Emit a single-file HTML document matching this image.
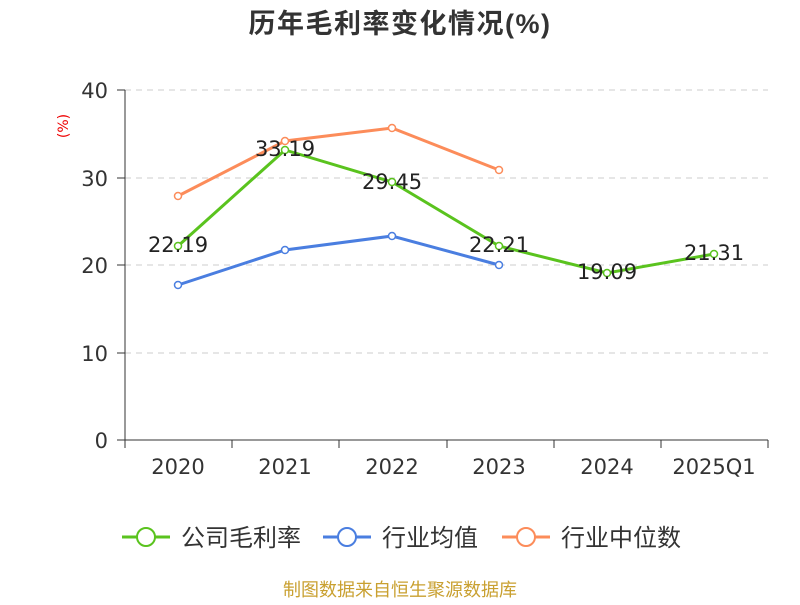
<!DOCTYPE html>
<html><head><meta charset="utf-8"><style>body{margin:0;background:#fff}</style></head><body>
<svg width="800" height="600" xmlns="http://www.w3.org/2000/svg" font-family="DejaVu Sans, Noto Sans CJK SC, sans-serif">
<rect width="800" height="600" fill="#fff"/>
<text x="400" y="33" text-anchor="middle" font-size="27" letter-spacing="1.5" font-weight="bold" fill="#333" font-family="Liberation Sans, Noto Sans CJK SC, sans-serif">历年毛利率变化情况(%)</text>
<text x="68" y="126" font-size="14" fill="#e00" transform="rotate(-90 68 126)" text-anchor="middle">(%)</text>
<g stroke="#ccc" stroke-dasharray="6,5" stroke-width="1">
<line x1="125" y1="90" x2="768" y2="90"/><line x1="125" y1="178" x2="768" y2="178"/><line x1="125" y1="265" x2="768" y2="265"/><line x1="125" y1="353" x2="768" y2="353"/>
</g>
<g stroke="#333" stroke-width="1">
<line x1="125" y1="90" x2="125" y2="440"/><line x1="125" y1="440" x2="768" y2="440"/>
<line x1="117" y1="90" x2="125" y2="90"/><line x1="117" y1="178" x2="125" y2="178"/><line x1="117" y1="265" x2="125" y2="265"/><line x1="117" y1="353" x2="125" y2="353"/><line x1="117" y1="440" x2="125" y2="440"/>
<line x1="125" y1="440" x2="125" y2="448"/><line x1="232" y1="440" x2="232" y2="448"/><line x1="339" y1="440" x2="339" y2="448"/><line x1="447" y1="440" x2="447" y2="448"/><line x1="554" y1="440" x2="554" y2="448"/><line x1="661" y1="440" x2="661" y2="448"/><line x1="768" y1="440" x2="768" y2="448"/>
</g>
<g font-size="21" fill="#333" text-anchor="end">
<text x="108" y="98">40</text><text x="108" y="186">30</text><text x="108" y="273">20</text><text x="108" y="361">10</text><text x="108" y="448">0</text>
</g>
<g font-size="21" fill="#333" text-anchor="middle">
<text x="178" y="474">2020</text><text x="285" y="474">2021</text><text x="392" y="474">2022</text><text x="499" y="474">2023</text><text x="607" y="474">2024</text><text x="714" y="474">2025Q1</text>
</g>
<polyline points="178,196 285,141 392,128 499,170" fill="none" stroke="#fc8c5a" stroke-width="3"/>
<polyline points="178,285 285,250 392,236 499,265" fill="none" stroke="#4a7ee0" stroke-width="3"/>
<polyline points="178,246 285,150 392,182 499,246 607,273 714,254" fill="none" stroke="#5ac31e" stroke-width="3"/>
<g fill="#fff" stroke="#fc8c5a" stroke-width="1.5"><circle cx="178" cy="196" r="3.5"/><circle cx="285" cy="141" r="3.5"/><circle cx="392" cy="128" r="3.5"/><circle cx="499" cy="170" r="3.5"/></g>
<g fill="#fff" stroke="#4a7ee0" stroke-width="1.5"><circle cx="178" cy="285" r="3.5"/><circle cx="285" cy="250" r="3.5"/><circle cx="392" cy="236" r="3.5"/><circle cx="499" cy="265" r="3.5"/></g>
<g fill="#fff" stroke="#5ac31e" stroke-width="1.5"><circle cx="178" cy="246" r="3.5"/><circle cx="285" cy="150" r="3.5"/><circle cx="392" cy="182" r="3.5"/><circle cx="499" cy="246" r="3.5"/><circle cx="607" cy="273" r="3.5"/><circle cx="714" cy="254" r="3.5"/></g>
<g font-size="21" fill="#222" text-anchor="middle">
<text x="178" y="252">22.19</text><text x="285" y="156">33.19</text><text x="392" y="189">29.45</text><text x="499" y="252">22.21</text><text x="607" y="279">19.09</text><text x="714" y="260">21.31</text>
</g>
<g font-size="24" fill="#333">
<line x1="122" y1="537" x2="170" y2="537" stroke="#5ac31e" stroke-width="3"/><circle cx="146" cy="537" r="9" fill="#fff" stroke="#5ac31e" stroke-width="2"/><text x="181" y="546">公司毛利率</text>
<line x1="323" y1="537" x2="371" y2="537" stroke="#4a7ee0" stroke-width="3"/><circle cx="347" cy="537" r="9" fill="#fff" stroke="#4a7ee0" stroke-width="2"/><text x="382" y="546">行业均值</text>
<line x1="502" y1="537" x2="550" y2="537" stroke="#fc8c5a" stroke-width="3"/><circle cx="526" cy="537" r="9" fill="#fff" stroke="#fc8c5a" stroke-width="2"/><text x="561" y="546">行业中位数</text>
</g>
<text x="400" y="596" text-anchor="middle" font-size="18" fill="#c9a030">制图数据来自恒生聚源数据库</text>
</svg>
</body></html>
